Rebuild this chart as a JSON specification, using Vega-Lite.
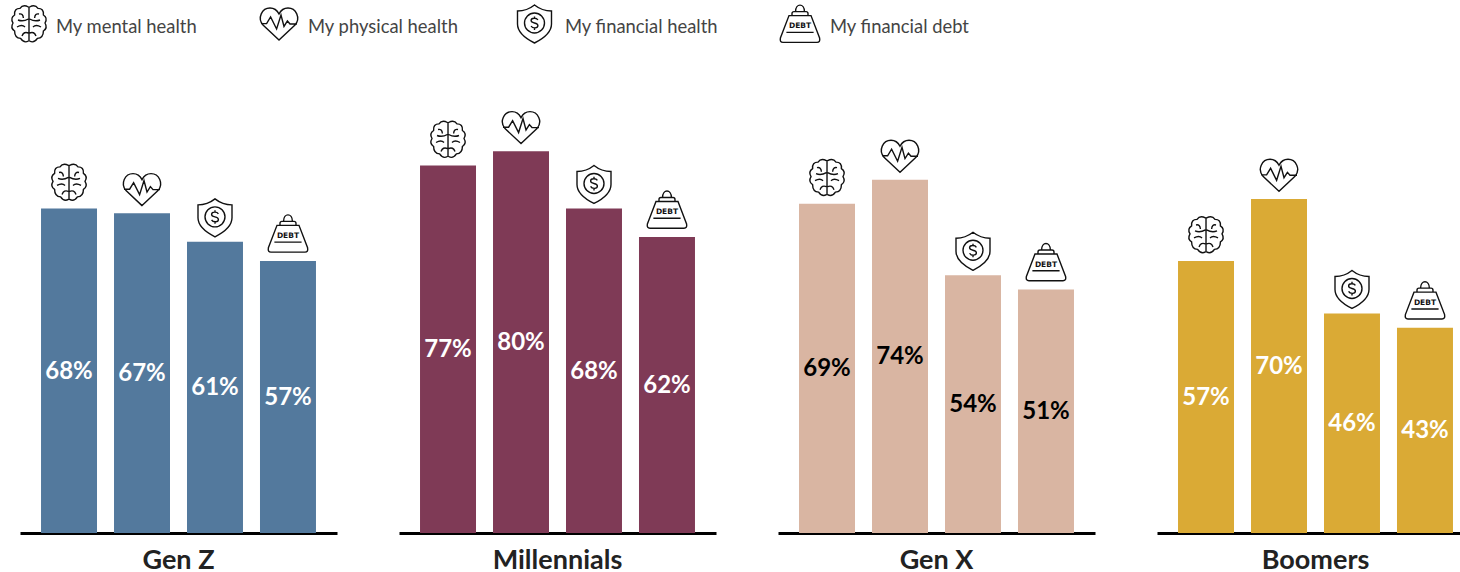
{
"$schema":"https://vega.github.io/schema/vega-lite/v6.json",
"padding":{"left":9,"top":0,"right":0,"bottom":20},
"background":"white",
"bounds":"flush",
"spacing":65,
"config":{"view":{"stroke":null},"font":"Lato"},
"datasets":{
"legend":[
{"metric":"My mental health","rank":0},
{"metric":"My physical health","rank":1},
{"metric":"My financial health","rank":2},
{"metric":"My financial debt","rank":3}],
"bars":[
{"gen":"Gen Z","metric":"My mental health","value":0.68},
{"gen":"Gen Z","metric":"My physical health","value":0.67},
{"gen":"Gen Z","metric":"My financial health","value":0.61},
{"gen":"Gen Z","metric":"My financial debt","value":0.57},
{"gen":"Millennials","metric":"My mental health","value":0.77},
{"gen":"Millennials","metric":"My physical health","value":0.80},
{"gen":"Millennials","metric":"My financial health","value":0.68},
{"gen":"Millennials","metric":"My financial debt","value":0.62},
{"gen":"Gen X","metric":"My mental health","value":0.69},
{"gen":"Gen X","metric":"My physical health","value":0.74},
{"gen":"Gen X","metric":"My financial health","value":0.54},
{"gen":"Gen X","metric":"My financial debt","value":0.51},
{"gen":"Boomers","metric":"My mental health","value":0.57},
{"gen":"Boomers","metric":"My physical health","value":0.70},
{"gen":"Boomers","metric":"My financial health","value":0.46},
{"gen":"Boomers","metric":"My financial debt","value":0.43}]
},
"vconcat":[
{"width":1400,"height":48,
"data":{"name":"legend"},
"resolve":{"scale":{"x":"independent","shape":"independent"}},
"layer":[
{"mark":{"type":"point","filled":false,"size":1600,"stroke":"#111","strokeWidth":1.4,"opacity":1},
"encoding":{
"x":{"field":"rank","type":"quantitative","axis":null,"scale":{"domain":[0,1,2,3],"range":[9,259,514.5,780]}},
"shape":{"field":"metric","type":"nominal","legend":null,"scale":{"domain":["My mental health","My physical health","My financial health","My financial debt"],
"range":[
"M0,-0.88L0,0.88M-0.03,-0.85Q-0.3,-1 -0.45,-0.78Q-0.75,-0.78 -0.72,-0.45Q-0.95,-0.3 -0.8,-0.05Q-0.95,0.2 -0.72,0.35Q-0.72,0.7 -0.42,0.72Q-0.25,0.98 -0.03,0.85M0.03,-0.85Q0.3,-1 0.45,-0.78Q0.75,-0.78 0.72,-0.45Q0.95,-0.3 0.8,-0.05Q0.95,0.2 0.72,0.35Q0.72,0.7 0.42,0.72Q0.25,0.98 0.03,0.85M-0.5,-0.5Q-0.3,-0.55 -0.28,-0.3M-0.03,-0.25Q-0.3,-0.1 -0.55,-0.2M-0.6,0.15Q-0.35,0 -0.2,0.15M-0.03,0.45Q-0.25,0.35 -0.35,0.6M0.5,-0.5Q0.3,-0.55 0.28,-0.3M0.03,-0.25Q0.3,-0.1 0.55,-0.2M0.6,0.15Q0.35,0 0.2,0.15M0.03,0.45Q0.25,0.35 0.35,0.6",
"M0,0.8L-0.8,0.05C-1.1,-0.3 -0.85,-0.8 -0.45,-0.8C-0.25,-0.8 -0.1,-0.7 0,-0.5C0.1,-0.7 0.25,-0.8 0.45,-0.8C0.85,-0.8 1.1,-0.3 0.8,0.05ZM-0.9,-0.02L-0.62,-0.02L-0.42,-0.35L-0.12,0.25L0.1,-0.45L0.25,0.12L0.42,-0.15L0.55,0L0.9,0",
"M0,-0.95C-0.25,-0.75 -0.55,-0.65 -0.85,-0.65L-0.85,0C-0.85,0.45 -0.4,0.75 0,0.95C0.4,0.75 0.85,0.45 0.85,0L0.85,-0.65C0.55,-0.65 0.25,-0.75 0,-0.95ZM0.5,-0.05A0.5,0.5 0 1 1 -0.5,-0.05A0.5,0.5 0 1 1 0.5,-0.05ZM0.17,-0.2C0.1,-0.32 -0.17,-0.32 -0.17,-0.17C-0.17,0 0.17,-0.1 0.17,0.08C0.17,0.23 -0.1,0.23 -0.17,0.1M0,-0.38L0,-0.28M0,0.2L0,0.3",
"M-0.22,-0.62C-0.22,-1.05 0.22,-1.05 0.22,-0.62M-0.4,-0.42L-0.4,-0.52Q-0.4,-0.62 -0.3,-0.62L0.3,-0.62Q0.4,-0.62 0.4,-0.52L0.4,-0.42M-0.55,-0.42L0.55,-0.42L0.98,0.7Q1.02,0.92 0.85,0.92L-0.85,0.92Q-1.02,0.92 -0.98,0.7ZM-0.68,0.42L0.68,0.42"
]}}}},
{"transform":[{"filter":"datum.rank===3"}],
"mark":{"type":"text","text":"DEBT","font":"DejaVu Sans","fontWeight":"bold","fontSize":7.5,"color":"#111","dy":2},
"encoding":{"x":{"field":"rank","type":"quantitative","axis":null,"scale":{"domain":[0,1,2,3],"range":[9,259,514.5,780]}}}},
{"mark":{"type":"text","align":"left","baseline":"middle","fontSize":18.4,"color":"#444444","font":"Lato","dy":3},
"encoding":{
"x":{"field":"rank","type":"quantitative","axis":null,"scale":{"domain":[0,1,2,3],"range":[36,288,545,810]}},
"text":{"field":"metric","type":"nominal"}}}
]},
{"data":{"name":"bars"},
"bounds":"flush",
"spacing":62,
"facet":{"field":"gen","type":"nominal","sort":["Gen Z","Millennials","Gen X","Boomers"],
"title":null,
"header":{"title":null,"labelOrient":"bottom","labelFontSize":27,"labelFontWeight":"bold","labelFont":"Lato","labelColor":"#222222","labelPadding":15}},
"spec":{"width":317,"height":420,
"encoding":{
"x":{"field":"metric","type":"nominal","sort":["My mental health","My physical health","My financial health","My financial debt"],
"scale":{"paddingInner":0.233,"paddingOuter":0.288},
"axis":{"title":null,"labels":false,"ticks":false,"domain":true,"domainColor":"#000000","domainWidth":3}}},
"resolve":{"scale":{"y":"independent"}},
"layer":[
{"mark":{"type":"bar"},
"encoding":{
"y":{"field":"value","type":"quantitative","axis":null,"scale":{"domain":[0,0.88]}},
"color":{"field":"gen","type":"nominal","legend":null,"scale":{"domain":["Gen Z","Millennials","Gen X","Boomers"],"range":["#53799D","#7F3A56","#D9B5A2","#DAAA35"]}}}},
{"mark":{"type":"point","filled":false,"size":1600,"stroke":"#111","strokeWidth":1.4,"opacity":1,"yOffset":-26},
"encoding":{
"y":{"field":"value","type":"quantitative","axis":null,"scale":{"domain":[0,0.88]}},
"shape":{"field":"metric","type":"nominal","legend":null,"scale":{"domain":["My mental health","My physical health","My financial health","My financial debt"],
"range":[
"M0,-0.88L0,0.88M-0.03,-0.85Q-0.3,-1 -0.45,-0.78Q-0.75,-0.78 -0.72,-0.45Q-0.95,-0.3 -0.8,-0.05Q-0.95,0.2 -0.72,0.35Q-0.72,0.7 -0.42,0.72Q-0.25,0.98 -0.03,0.85M0.03,-0.85Q0.3,-1 0.45,-0.78Q0.75,-0.78 0.72,-0.45Q0.95,-0.3 0.8,-0.05Q0.95,0.2 0.72,0.35Q0.72,0.7 0.42,0.72Q0.25,0.98 0.03,0.85M-0.5,-0.5Q-0.3,-0.55 -0.28,-0.3M-0.03,-0.25Q-0.3,-0.1 -0.55,-0.2M-0.6,0.15Q-0.35,0 -0.2,0.15M-0.03,0.45Q-0.25,0.35 -0.35,0.6M0.5,-0.5Q0.3,-0.55 0.28,-0.3M0.03,-0.25Q0.3,-0.1 0.55,-0.2M0.6,0.15Q0.35,0 0.2,0.15M0.03,0.45Q0.25,0.35 0.35,0.6",
"M0,0.92L-0.8,0.17C-1.1,-0.18 -0.85,-0.68 -0.45,-0.68C-0.25,-0.68 -0.1,-0.58 0,-0.38C0.1,-0.58 0.25,-0.68 0.45,-0.68C0.85,-0.68 1.1,-0.18 0.8,0.17ZM-0.9,0.1L-0.62,0.1L-0.42,-0.23L-0.12,0.37L0.1,-0.33L0.25,0.24L0.42,-0.03L0.55,0.12L0.9,0.12",
"M0,-0.85C-0.25,-0.65 -0.55,-0.55 -0.85,-0.55L-0.85,0.1C-0.85,0.55 -0.4,0.85 0,1.05C0.4,0.85 0.85,0.55 0.85,0.1L0.85,-0.55C0.55,-0.55 0.25,-0.65 0,-0.85ZM0.5,0.05A0.5,0.5 0 1 1 -0.5,0.05A0.5,0.5 0 1 1 0.5,0.05ZM0.17,-0.1C0.1,-0.22 -0.17,-0.22 -0.17,-0.07C-0.17,0.1 0.17,0 0.17,0.18C0.17,0.33 -0.1,0.33 -0.17,0.2M0,-0.28L0,-0.18M0,0.3L0,0.4",
"M-0.22,-0.68C-0.22,-1.11 0.22,-1.11 0.22,-0.68M-0.4,-0.48L-0.4,-0.58Q-0.4,-0.68 -0.3,-0.68L0.3,-0.68Q0.4,-0.68 0.4,-0.58L0.4,-0.48M-0.55,-0.48L0.55,-0.48L0.98,0.64Q1.02,0.86 0.85,0.86L-0.85,0.86Q-1.02,0.86 -0.98,0.64ZM-0.68,0.36L0.68,0.36"
]}}}},
{"transform":[{"filter":"datum.metric==='My financial debt'"}],
"mark":{"type":"text","text":"DEBT","font":"DejaVu Sans","fontWeight":"bold","fontSize":7.5,"color":"#111","dy":-25},
"encoding":{"y":{"field":"value","type":"quantitative","axis":null,"scale":{"domain":[0,0.88]}}}},
{"mark":{"type":"text","fontSize":24,"fontWeight":"bold","font":"Lato","baseline":"middle","dy":1},
"encoding":{
"y":{"field":"value","type":"quantitative","axis":null,"scale":{"domain":[0,1.76]}},
"text":{"field":"value","type":"quantitative","format":".0%"},
"color":{"condition":{"test":"datum.gen==='Gen X'","value":"#000000"},"value":"#ffffff"}}}
]}}
]}
